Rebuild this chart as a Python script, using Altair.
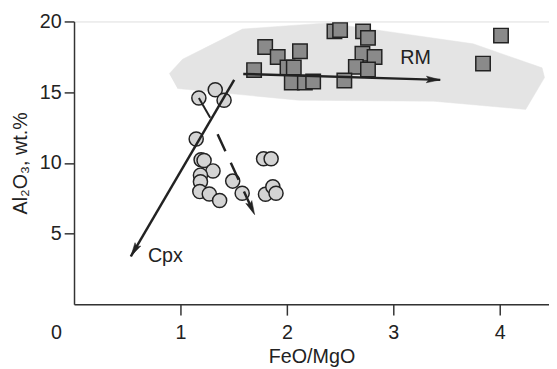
import math
import altair as alt
import pandas as pd

# ---------------- data ----------------
# RM (squares)
sq_x = [1.796, 1.914, 2.123, 1.692, 2.006, 2.065, 2.046, 2.169, 2.247, 2.447,
        2.500, 2.716, 2.762, 2.710, 2.824, 2.648, 2.762, 2.540, 4.012, 3.843]
sq_y = [18.19, 17.49, 17.89, 16.56, 16.75, 16.75, 15.68, 15.68, 15.75, 19.30,
        19.39, 19.30, 18.84, 17.72, 17.49, 16.79, 16.61, 15.82, 19.00, 17.02]

# Cpx-bearing samples (circles)
ci_x = [1.173, 1.327, 1.410, 1.148, 1.194, 1.222, 1.306, 1.188, 1.188, 1.182,
        1.271, 1.368, 1.491, 1.580, 1.781, 1.852, 1.799, 1.868, 1.898]
ci_y = [14.59, 15.17, 14.43, 11.69, 10.22, 10.17, 9.43, 9.13, 8.66, 7.97,
        7.80, 7.34, 8.71, 7.85, 10.29, 10.29, 7.78, 8.31, 7.85]

# grey field
poly_x = [0.895, 1.019, 1.583, 2.377, 3.750, 4.398, 4.421, 4.244, 3.380, 2.111, 0.972]
poly_y = [16.31, 17.32, 19.46, 19.90, 18.42, 16.72, 16.03, 13.78, 14.36, 14.43, 15.26]

# trend arrows: name, x0, y0, x1, y1
arrow_names = ["Cpx", "RM", "dash"]
arrow_x0 = [1.505, 1.590, 1.349]
arrow_y0 = [15.87, 16.29, 12.03]
arrow_x1 = [0.534, 3.441, 1.697]
arrow_y1 = [3.39, 15.87, 6.34]

# tie line
tie_x = [1.173, 1.280]
tie_y = [14.59, 13.19]

# text labels
label_text = ["Cpx", "RM"]
label_x = [0.694, 3.065]
label_y = [3.41, 17.42]

origin_label = ["0"]
origin_x = [-0.165]
origin_y = [-2.05]

x_ticks = [1, 2, 3, 4]
y_ticks = [5, 10, 15, 20]

# ---------------- layout ----------------
W, H = 482, 287
XMAX, YMAX = 4.463, 20
XPX = W / XMAX
YPX = H / YMAX
FONT = "Liberation Sans"
INK = "#222222"

xs = alt.Scale(domain=[0, XMAX], nice=False, zero=False)
ys = alt.Scale(domain=[0, YMAX], nice=False, zero=False)

x_axis = alt.Axis(values=x_ticks, format="d", title="FeO/MgO", grid=False,
                  tickSize=11, labelPadding=8, titlePadding=4,
                  domainColor="#333", domainWidth=1.5, tickColor="#333",
                  tickWidth=1.5, labelFontSize=20, titleFontSize=20,
                  labelFont=FONT, titleFont=FONT, titleFontWeight="normal",
                  labelColor=INK, titleColor=INK)
y_axis = alt.Axis(values=y_ticks, format="d", title="Al₂O₃, wt.%", grid=False,
                  tickSize=10, labelPadding=3, titlePadding=9,
                  domainColor="#333", domainWidth=1.5, tickColor="#333",
                  tickWidth=1.5, labelFontSize=20, titleFontSize=20,
                  labelFont=FONT, titleFont=FONT, titleFontWeight="normal",
                  labelColor=INK, titleColor=INK)

poly_df = pd.DataFrame({"x": poly_x, "y": poly_y, "o": range(len(poly_x))})
sq_df = pd.DataFrame({"x": sq_x, "y": sq_y})
ci_df = pd.DataFrame({"x": ci_x, "y": ci_y})

rows = []
for n, a, b, c, d in zip(arrow_names, arrow_x0, arrow_y0, arrow_x1, arrow_y1):
    dxp = (c - a) * XPX
    dyp = -(d - b) * YPX
    ang = math.degrees(math.atan2(dxp, -dyp)) % 360
    rows.append({"name": n, "x": a, "y": b, "x2": c, "y2": d, "angle": ang,
                 "dash": n == "dash"})
arr_df = pd.DataFrame(rows)
tie_df = pd.DataFrame({"x": [tie_x[0]], "y": [tie_y[0]], "x2": [tie_x[1]], "y2": [tie_y[1]]})
lab_df = pd.DataFrame({"t": label_text, "x": label_x, "y": label_y})
org_df = pd.DataFrame({"t": origin_label, "x": origin_x, "y": origin_y})

field = alt.Chart(poly_df).mark_line(fill="#e4e4e4", stroke="#e4e4e4",
                                     strokeWidth=0.5).encode(
    x=alt.X("x:Q", scale=xs, axis=x_axis),
    y=alt.Y("y:Q", scale=ys, axis=y_axis),
    order="o:Q",
)

squares = alt.Chart(sq_df).mark_point(shape="square", filled=True, size=215,
                                      fill="#8a8a8a", stroke=INK,
                                      strokeWidth=1.5, opacity=1).encode(
    x=alt.X("x:Q", scale=xs), y=alt.Y("y:Q", scale=ys))

circles = alt.Chart(ci_df).mark_point(shape="circle", filled=True, size=205,
                                      fill="#d4d4d4", stroke=INK,
                                      strokeWidth=1.5, opacity=1).encode(
    x=alt.X("x:Q", scale=xs), y=alt.Y("y:Q", scale=ys))

solid = alt.Chart(arr_df[~arr_df["dash"]]).mark_rule(
    color=INK, strokeWidth=2.5).encode(
    x=alt.X("x:Q", scale=xs), y=alt.Y("y:Q", scale=ys), x2="x2:Q", y2="y2:Q")

dashed = alt.Chart(arr_df[arr_df["dash"]]).mark_rule(
    color=INK, strokeWidth=2.5, strokeDash=[19, 13]).encode(
    x=alt.X("x:Q", scale=xs), y=alt.Y("y:Q", scale=ys), x2="x2:Q", y2="y2:Q")

heads = alt.Chart(arr_df).mark_point(
    shape="M0,0L0.5,2.1L0,1.7L-0.5,2.1Z", filled=True, size=180,
    fill=INK, stroke=INK, strokeWidth=0.5, opacity=1).encode(
    x=alt.X("x2:Q", scale=xs), y=alt.Y("y2:Q", scale=ys),
    angle=alt.Angle("angle:Q", scale=None))

tie = alt.Chart(tie_df).mark_rule(color=INK, strokeWidth=2).encode(
    x=alt.X("x:Q", scale=xs), y=alt.Y("y:Q", scale=ys), x2="x2:Q", y2="y2:Q")

labels = alt.Chart(lab_df).mark_text(align="left", baseline="middle",
                                     fontSize=20, font=FONT, color=INK).encode(
    x=alt.X("x:Q", scale=xs), y=alt.Y("y:Q", scale=ys), text="t:N")

origin = alt.Chart(org_df).mark_text(align="center", baseline="middle",
                                     fontSize=20, font=FONT, color=INK).encode(
    x=alt.X("x:Q", scale=xs), y=alt.Y("y:Q", scale=ys), text="t:N")

chart = alt.layer(field, squares, circles, solid, dashed, tie, heads, labels,
                  origin).properties(
    width=W, height=H,
    autosize=alt.AutoSizeParams(type="none"),
    padding={"left": 67, "top": 11, "right": 0, "bottom": 62},
).configure_view(stroke=None).configure(background="white")

chart.save("out.html", embed_options={"renderer": "svg", "actions": False})
